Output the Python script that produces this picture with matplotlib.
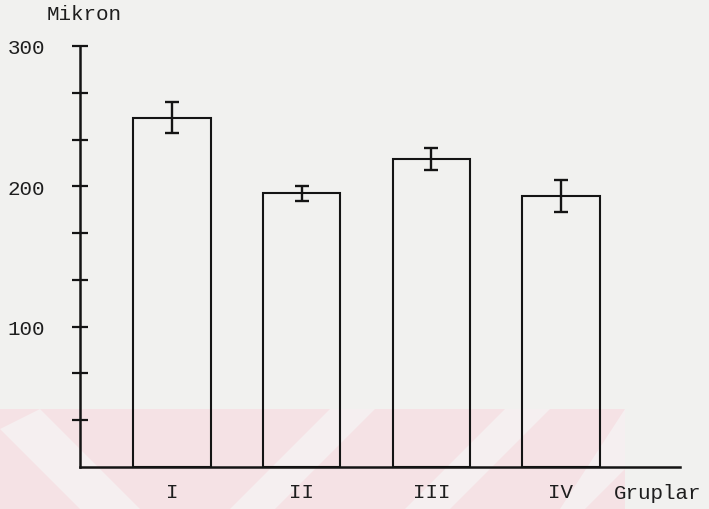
import numpy as np
import matplotlib
matplotlib.use("Agg")
import matplotlib.pyplot as plt
from matplotlib.ticker import FixedLocator, FuncFormatter
from matplotlib.patches import Polygon

# ---- data ----
groups = ["I", "II", "III", "IV"]
means = [249, 195, 219.5, 193]
errors = [11, 5.5, 8, 11.5]
y_tick_labels = {100: "100", 200: "200", 300: "300"}
y_label = "Mikron"
x_label = "Gruplar"

FONT = "Liberation Mono"
FS = 15
W, H = 709, 510
fig = plt.figure(figsize=(W / 100, H / 100), dpi=100)
fig.patch.set_facecolor("#f1f1ef")

# watermark-like pink band (decoration)
def fx(px):
    return px / W
def fy(py):
    return 1 - py / H

band = Polygon([(fx(0), fy(410)), (fx(625), fy(410)), (fx(625), fy(510)), (fx(0), fy(510))],
               closed=True, transform=fig.transFigure, facecolor="#f5e2e5", edgecolor="none", zorder=-10)
fig.patches.append(band)
stripes = [
    [(0, 430), (40, 410), (140, 510), (80, 510)],
    [(330, 410), (375, 410), (275, 510), (230, 510)],
    [(505, 410), (550, 410), (450, 510), (405, 510)],
    [(625, 410), (625, 470), (585, 510), (560, 510)],
]
for s in stripes:
    p = Polygon([(fx(a), fy(b)) for a, b in s], closed=True, transform=fig.transFigure,
                facecolor="#f5eff0", edgecolor="none", zorder=-9)
    fig.patches.append(p)

left = 80 / W
right = 680 / W
bottom = (H - 468) / H
top = (H - 47) / H
ax = fig.add_axes([left, bottom, right - left, top - bottom])
ax.set_zorder(5)
ax.patch.set_alpha(0)

x = np.arange(len(groups))
ax.bar(x, means, width=0.595, facecolor="none", edgecolor="#141414", linewidth=1.5, zorder=2)
ax.errorbar(x, means, yerr=errors, fmt="none", ecolor="#141414", elinewidth=1.7,
            capsize=4.7, capthick=1.7, zorder=3)

ax.set_xlim(-0.71, 3.918)
ax.set_ylim(0, 300)

for s in ["top", "right"]:
    ax.spines[s].set_visible(False)
ax.spines["left"].set_linewidth(1.8)
ax.spines["bottom"].set_linewidth(1.8)
ax.spines["left"].set_color("#141414")
ax.spines["bottom"].set_color("#141414")

yt = [100 / 3 * k for k in range(1, 10)]
ax.yaxis.set_major_locator(FixedLocator(yt))
ax.yaxis.set_major_formatter(FuncFormatter(
    lambda v, p: y_tick_labels.get(int(round(v)), "") if abs(v - round(v)) < 1e-6 else ""))
ax.tick_params(axis="y", direction="inout", length=11, width=1.6, color="#141414",
               pad=19.5, labelsize=FS, labelcolor="#1e1e1e")
ax.set_xticks(x)
ax.set_xticklabels(groups)
ax.tick_params(axis="x", length=0, pad=11, labelsize=FS, labelcolor="#1e1e1e")
for lab in ax.get_xticklabels() + ax.get_yticklabels():
    lab.set_fontfamily(FONT)

fig.text(fx(47), fy(14), y_label, fontsize=FS, family=FONT, color="#1e1e1e",
         ha="left", va="center")
fig.text(fx(614), fy(494), x_label, fontsize=FS, family=FONT, color="#1e1e1e",
         ha="left", va="center")

fig.savefig("out.png", dpi=100, facecolor=fig.get_facecolor())
